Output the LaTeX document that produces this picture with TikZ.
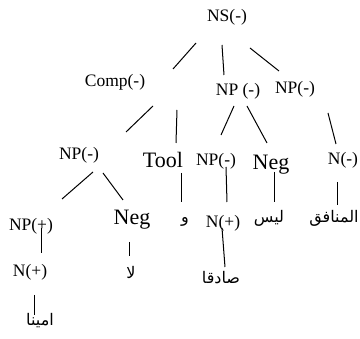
\documentclass[tikz,border=0pt]{standalone}
\usepackage{fontspec}
\setmainfont{Liberation Serif}
\newfontfamily\arabicfont[Script=Arabic]{DejaVu Sans}
\TeXXeTstate=1
\tikzset{
  lbl/.style={inner sep=0pt, anchor=base, font=\fontsize{17.5}{20}\selectfont},
  big/.style={inner sep=0pt, anchor=base, font=\fontsize{22}{24}\selectfont},
  ar/.style={inner sep=0pt, anchor=center, font=\arabicfont\fontsize{16}{18}\selectfont},
  edge/.style={line width=1pt, line cap=butt}
}
\begin{document}
\begin{tikzpicture}[x=1pt,y=-1pt]
\useasboundingbox (0,0) rectangle (360,339);
% nodes
\node[lbl] (NS) at (227,22) {NS(-)};
\node[lbl] (Comp) at (115,87) {Comp(-)};
\node[lbl] (NPm) at (238,96) {NP (-)};
\node[lbl] (NPr) at (295,94) {NP(-)};
\node[lbl] (NPl) at (79,160) {NP(-)};
\node[big] (Tool) at (163,168) {Tool};
\node[lbl] (NPs) at (216,166) {NP(-)};
\node[big] (Negm) at (271,170) {Neg};
\node[lbl] (Nm) at (343,165) {N(-)};
\node[big] (Negl) at (132,225) {Neg};
\node[lbl] (NPp) at (31,231) {NP(+)};
\node[lbl] (Nl) at (30,277) {N(+)};
\node[lbl] (Np) at (223,228) {N(+)};
\node[ar] (amina) at (40,321) {\beginR امينا\endR};
\node[ar] (la) at (131,273) {\beginR لا\endR};
\node[ar] (waw) at (185,222) {\beginR و\endR};
\node[ar] (sadiqan) at (221,278) {\beginR صادقا\endR};
\node[ar] (laysa) at (269,218) {\beginR ليس\endR};
\node[ar] (munafiq) at (334,218) {\beginR المنافق\endR};
% connector end points
\coordinate (e1a) at (196,43);  \coordinate (e1b) at (173,69);
\coordinate (e2a) at (222,45);  \coordinate (e2b) at (224,75);
\coordinate (e3a) at (250,48);  \coordinate (e3b) at (279,71);
\coordinate (e4a) at (153,106); \coordinate (e4b) at (126,132);
\coordinate (e5a) at (177,110); \coordinate (e5b) at (176,143);
\coordinate (e6a) at (234,106); \coordinate (e6b) at (221,135);
\coordinate (e7a) at (247,106); \coordinate (e7b) at (267,143);
\coordinate (e8a) at (328,113); \coordinate (e8b) at (336,144);
\coordinate (e9a) at (93,172);  \coordinate (e9b) at (62,199);
\coordinate (e10a) at (103,173); \coordinate (e10b) at (123,200);
\coordinate (e11a) at (182,173); \coordinate (e11b) at (182,202);
\coordinate (e12a) at (226,167); \coordinate (e12b) at (227,202);
\coordinate (e13a) at (222,228); \coordinate (e13b) at (225,267);
\coordinate (e14a) at (275,172); \coordinate (e14b) at (275,202);
\coordinate (e15a) at (338,182); \coordinate (e15b) at (338,205);
\coordinate (e16a) at (42,228);  \coordinate (e16b) at (42,253);
\coordinate (e17a) at (130,242); \coordinate (e17b) at (130,256);
\coordinate (e18a) at (35,295);  \coordinate (e18b) at (35,315);
\foreach \i in {1,...,18} \draw[edge] (e\i a) -- (e\i b);
\end{tikzpicture}
\end{document}
